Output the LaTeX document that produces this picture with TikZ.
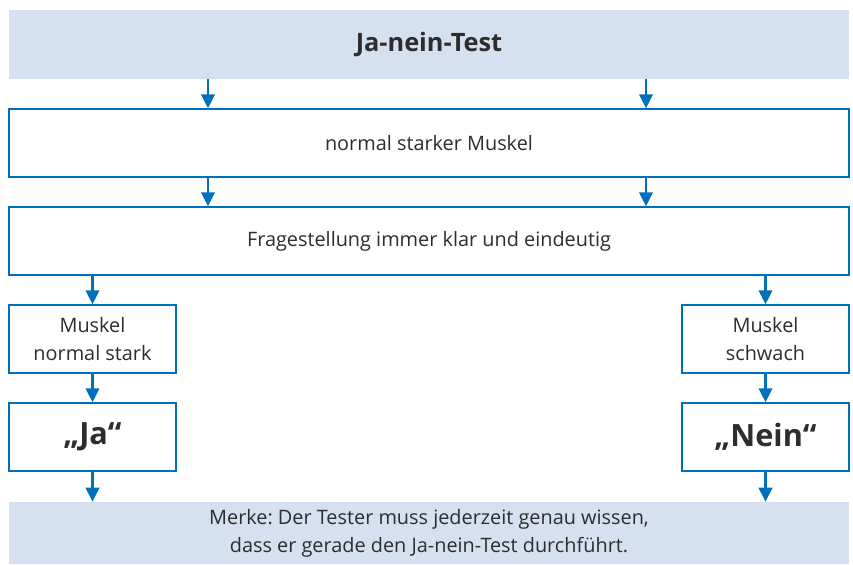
\documentclass[tikz,border=0pt]{standalone}
\usepackage{fontspec}
\setmainfont{Open Sans}
\usetikzlibrary{arrows.meta}
\frenchspacing
\definecolor{hellblau}{RGB}{213,224,240}
\definecolor{linienblau}{RGB}{0,112,186}
\definecolor{textgrau}{RGB}{45,45,45}
\tikzset{
	band/.style={fill=hellblau, draw=none, minimum width=630pt, inner sep=0pt,
		text=textgrau, align=center},
	kasten/.style={draw=linienblau, line width=1pt, fill=white, inner sep=0pt,
		text=textgrau, align=center, minimum height=51pt},
	pfeil/.style={draw=linienblau, line width=2pt,
		-{Triangle[length=10.5pt,width=10pt]}},
	normaltext/.style={font=\fontsize{14.9}{21}\selectfont},
	grosstext/.style={font=\fontsize{23}{28}\selectfont\bfseries}
}
\begin{document}
\begin{tikzpicture}[x=0.75pt, y=-0.75pt]
	\useasboundingbox (0,0) rectangle (853,564);
	% Kopfzeile
	\node[band, minimum height=51.75pt, font=\fontsize{19}{22}\selectfont\bfseries]
	(kopf) at (429,44.5) {Ja-nein-Test};
	% breite Kaesten
	\node[kasten, normaltext, minimum width=630pt] (muskel) at (429,143)
	{normal starker Muskel};
	\node[kasten, normaltext, minimum width=630pt] (frage) at (429,241)
	{Fragestellung immer klar und eindeutig};
	% linke Spalte
	\node[kasten, normaltext, minimum width=125.25pt] (stark) at (92.5,339)
	{Muskel\\normal stark};
	\node[kasten, grosstext, minimum width=125.25pt] (ja) at (92.5,437)
	{„Ja“};
	% rechte Spalte
	\node[kasten, normaltext, minimum width=125.25pt] (schwach) at (765.5,339)
	{Muskel\\schwach};
	\node[kasten, grosstext, minimum width=125.25pt] (nein) at (765.5,437)
	{„Nein“};
	% Fusszeile
	\node[band, normaltext, minimum height=46.5pt] (merke) at (429,533)
	{Merke: Der Tester muss jederzeit genau wissen,\\dass er gerade den
	Ja-nein-Test durchführt.};

	% Pfeile oben
	\coordinate (links) at (208,0);
	\coordinate (rechts) at (646,0);
	\foreach \x in {links,rechts} {
		\draw[pfeil] (kopf.south -| \x) -- (muskel.north -| \x);
		\draw[pfeil] (muskel.south -| \x) -- (frage.north -| \x);
	}
	% Pfeile unten
	\foreach \a/\b/\c in {stark/ja/merke, schwach/nein/merke} {
		\draw[pfeil] (frage.south -| \a) -- (\a.north);
		\draw[pfeil] (\a) -- (\b);
		\draw[pfeil] (\b) -- (\c.north -| \b);
	}
\end{tikzpicture}
\end{document}
